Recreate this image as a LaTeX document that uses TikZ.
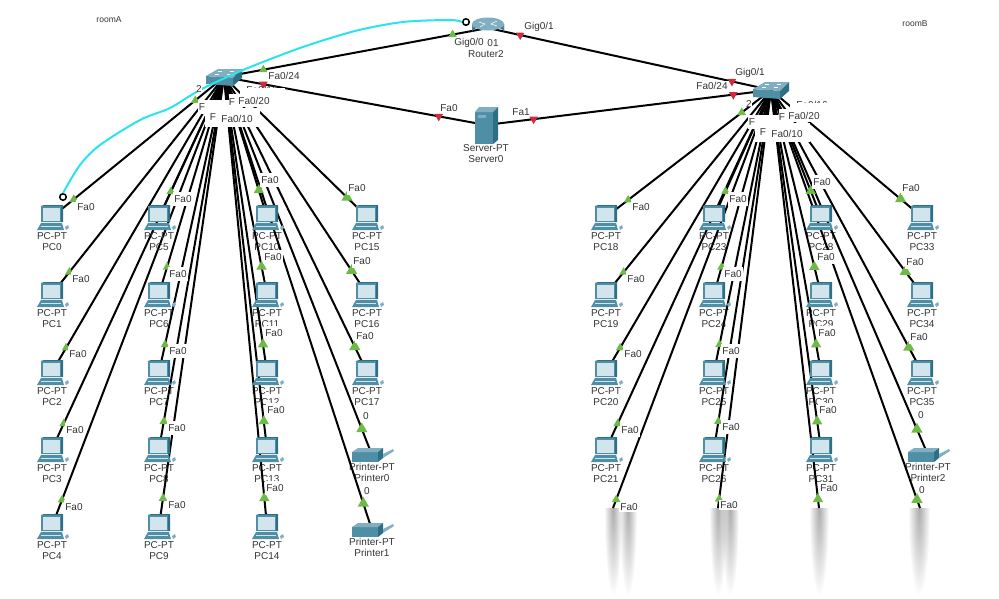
\documentclass[tikz,border=0pt]{standalone}
\usepackage{fontspec}
\setmainfont{Liberation Sans}
\usetikzlibrary{calc}
\usetikzlibrary{shapes.geometric}
\definecolor{devfront}{HTML}{4F8FA6}
\definecolor{devdark}{HTML}{2F6F86}
\definecolor{devtop}{HTML}{7FAFC1}
\definecolor{devscreen}{HTML}{D3E5EC}
\definecolor{upgreen}{HTML}{6DBB45}
\definecolor{downred}{HTML}{D2293F}
\definecolor{consolecyan}{HTML}{2BE3EC}
\definecolor{labelgray}{HTML}{333333}
\pgfdeclarelayer{bg}
\pgfdeclarelayer{fg}
\pgfsetlayers{bg,main,fg}
\tikzset{
  link/.style={draw=black,line width=2pt},
  devbox/.style={inner sep=0pt,minimum size=1pt},
  devtext/.style={align=center,anchor=north,inner sep=0pt,font=\fontsize{10}{11}\selectfont,text=labelgray},
  portlabel/.style={fill=white,inner xsep=1.5pt,inner ysep=1pt,font=\fontsize{10}{11}\selectfont,text=labelgray},
  pclabel/.style={portlabel,inner ysep=3pt},
  cover/.style={fill=white,inner sep=0pt,anchor=north west},
  upmark/.style={regular polygon,regular polygon sides=3,fill=upgreen,inner sep=0pt},
  downmark/.style={regular polygon,regular polygon sides=3,shape border rotate=180,fill=downred,inner sep=0pt,minimum size=10pt},
  conend/.style={circle,draw=black,fill=white,line width=1.5pt,inner sep=0pt,minimum size=6.500pt},
  pcicon/.pic={
    \fill[devdark] (-11,-11) -- (-8,-12) -- (11,-12) -- (11,5) -- (-11,5) -- cycle;
    \fill[devfront] (-11,-11) rectangle (9,5);
    \fill[devscreen] (-9,-9) rectangle (8,4);
    \fill[devfront] (-11,6) -- (10,6) -- (12,13) -- (-15,13) -- cycle;
    \fill[devscreen] (-11,9) rectangle (9,10);
    \fill[devtop] (13,10) -- (16,8) -- (17,11) -- (14,13) -- cycle;
  },
  printericon/.pic={
    \fill[devfront] (-20,-3) rectangle (6,7);
    \fill[devtop] (-20,-3) -- (-14,-7) -- (11,-7) -- (6,-3) -- cycle;
    \fill[devdark] (6,-3) -- (11,-7) -- (11,3) -- (6,7) -- cycle;
    \fill[devtop] (11,-1) -- (21,-6) -- (22,-4) -- (11,3) -- cycle;
  },
  switchicon/.pic={
    \fill[devfront] (-18,-1) -- (9,1) -- (9,9) -- (-18,7) -- cycle;
    \fill[devtop] (-18,-1) -- (-6,-8) -- (18,-8) -- (9,1) -- cycle;
    \fill[devdark] (9,1) -- (18,-8) -- (18,1) -- (9,9) -- cycle;
    \draw[white,line width=.4pt] (-6,-6) -- (-2,-6) (6,-6) -- (10,-6) (-9,-3) -- (-5,-3) (3,-3) -- (7,-3);
  },
  routericon/.pic={
    \fill[devdark] (-16,-4) -- (-16,4) arc[start angle=180,end angle=360,x radius=16,y radius=6] -- (16,-4) -- cycle;
    \fill[devfront] (-16,-4) -- (-16,2) arc[start angle=180,end angle=360,x radius=16,y radius=6] -- (16,-4) -- cycle;
    \fill[devtop] (0,-4) ellipse [x radius=16,y radius=6.5];
    \draw[white,line width=.5pt] (-9,-6) -- (-3,-4) -- (-8,-1) (9,-7) -- (3,-4) -- (9,-2);
  },
  servericon/.pic={
    \fill[devfront] (-11,-13) rectangle (7,19);
    \fill[devtop] (-11,-13) -- (-7,-18) -- (12,-18) -- (7,-13) -- cycle;
    \fill[devdark] (7,-13) -- (12,-18) -- (12,15) -- (7,19) -- cycle;
    \fill[devtop] (-8,-10) rectangle (0,-7);
  },
}
\begin{document}
\begin{tikzpicture}[x=1pt,y=-1pt]
\useasboundingbox (0,0) rectangle (999,598);
\node[devbox] (swA) at (224,77) {};
\node[devbox] (swB) at (771,90) {};
\node[devbox] (router) at (488,28) {};
\node[devbox] (server) at (486,125) {};
\begin{pgfonlayer}{bg}
\begin{scope}
\clip (560,508) rectangle (999,598);
\foreach \x/\rx in {613/9,628/9,718/9,730/9,819/10,919/11}
  \shade[blend mode=multiply,inner color=gray!65,outer color=white] (\x,508) ellipse [x radius=\rx,y radius=88];
\end{scope}
\draw[link] (swA.center) -- (router.center);
\draw[link] (swA.center) -- (server.center);
\draw[link] (router.center) -- (swB.center);
\draw[link] (server.center) -- (swB.center);
\end{pgfonlayer}
\foreach \n/\x/\y/\lx/\ly/\sw/\s in {
  PC0/52/217/86/207/swA/9,PC1/52/294/81/279/swA/9,PC2/52/372/78/354/swA/9,PC3/52/449/75/430/swA/9,PC4/52/526/74/507/swA/9,
  PC5/159/217/183/199/swA/9,PC6/159/294/178/274/swA/9,PC7/159/372/178/351/swA/9,PC8/159/449/177/428/swA/9,PC9/159/526/177/505/swA/9,
  PC10/267/217/270/180/swA/11,PC11/267/294/273/257/swA/11,PC12/267/372/274/333/swA/11,PC13/267/449/276/410/swA/11,PC14/267/526/275/488/swA/11,
  PC15/367/217/357/188/swA/12,PC16/367/294/362/261/swA/12,PC17/367/372/365/336/swA/12,
  PC18/606/217/641/207/swB/9,PC19/606/294/636/279/swB/9,PC20/606/372/633/354/swB/9,PC21/606/449/630/430/swB/9,
  PC23/714/217/738/199/swB/9,PC24/714/294/733/274/swB/9,PC25/714/372/731/351/swB/9,PC26/714/449/731/427/swB/9,
  PC28/821/217/822/182/swB/11,PC29/821/294/826/257/swB/11,PC30/821/372/827/333/swB/11,PC31/821/449/828/410/swB/11,
  PC33/922/217/911/188/swB/12,PC34/922/294/915/262/swB/12,PC35/922/372/919/337/swB/12}
{
  \node[devbox] (\n) at (\x,\y) {};
  \pic at (\n.center) {pcicon};
  \begin{pgfonlayer}{bg}
    \node[devtext] (\n-text) at ($(\n.center)+(0,15.5)$) {PC-PT\\\n};
    \draw[link] (\sw.center) -- (\n.center);
  \end{pgfonlayer}
  \node[upmark,minimum size=\s pt+1pt] (\n-mark) at ($(\n.center)!28pt!(\sw.center)$) {};
  \begin{pgfonlayer}{fg}
    \node[pclabel] (\n-port) at (\lx,\ly) {Fa0};
  \end{pgfonlayer}
}
\foreach \n/\x/\y/\lx/\ly/\sw in {Printer0/372/455/366/416/swA,Printer1/372/530/367/491/swA,Printer2/928/455/921/415/swB}
{
  \node[devbox] (\n) at (\x,\y) {};
  \pic at (\n.center) {printericon};
  \begin{pgfonlayer}{bg}
    \node[devtext] (\n-text) at ($(\n.center)+(0,8.5)$) {Printer-PT\\\n};
    \draw[link] (\sw.center) -- (\n.center);
  \end{pgfonlayer}
  \node[upmark,minimum size=13pt] (\n-mark) at ($(\n.center)!28pt!(\sw.center)$) {};
  \begin{pgfonlayer}{fg}
    \node[portlabel] (\n-port) at (\lx,\ly) {0};
  \end{pgfonlayer}
}
% links that run out at the faded bottom edge
\foreach \n/\x/\lx/\ly/\s/\txt in {endA/613/629/507/9/Fa0,endB/718/729/505/9/Fa0,endC/819/829/488/11/Fa0,endD/920/922/490/12/0}
{
  \coordinate (\n) at (\x,508);
  \begin{pgfonlayer}{bg}
    \draw[link] (swB.center) -- (\n);
  \end{pgfonlayer}
  \node[upmark,minimum size=\s pt+1pt] (\n-mark) at ($(\n)!9pt!(swB.center)$) {};
  \begin{pgfonlayer}{fg}
    \node[portlabel] (\n-port) at (\lx,\ly) {\txt};
  \end{pgfonlayer}
}
\pic at (swA.center) {switchicon};
\pic at (swB.center) {switchicon};
\pic at (router.center) {routericon};
\pic at (server.center) {servericon};
\node[devtext] (routertext) at (493,39) {01};
\node[devtext] (routername) at (486,50) {Router2};
\node[devtext] (servertext) at (486,144.500) {Server-PT\\Server0};
\node[upmark,minimum size=10pt] (m1) at ($(swA.center)!40pt!(router.center)$) {};
\node[upmark,minimum size=10pt] (m2) at ($(router.center)!36pt!(swA.center)$) {};
\node[upmark,minimum size=10pt] (m9) at ($(swA.center)!37pt!(PC0.center)$) {};
\node[upmark,minimum size=10pt] (m10) at ($(swB.center)!37pt!(PC18.center)$) {};
\node[downmark] (m3) at ($(swA.center)!40pt!(server.center)$) {};
\node[downmark] (m4) at ($(server.center)!48pt!(swA.center)$) {};
\node[downmark] (m5) at ($(router.center)!33pt!(swB.center)$) {};
\node[downmark] (m6) at ($(swB.center)!40pt!(router.center)$) {};
\node[downmark] (m7) at ($(server.center)!48pt!(swB.center)$) {};
\node[downmark] (m8) at ($(swB.center)!38pt!(server.center)$) {};
\node[conend] (conA) at (63,197) {};
\node[conend] (conB) at (466,22) {};
\draw[consolecyan,line width=2pt] plot[smooth] coordinates {(conA.north) (80,165) (100,145) (140,120) (170,108) (200,90) (243,70) (300,48) (355,31) (403,22) (450,20) (conB.west)};
\begin{pgfonlayer}{fg}
\node[portlabel,fill=none] (roomA) at (109,20) {\fontsize{8.5}{10}\selectfont roomA};
\node[portlabel,fill=none] (roomB) at (915,24) {\fontsize{8.5}{10}\selectfont roomB};
\node[portlabel] (gigA) at (469,43) {Gig0/0};
\node[portlabel] (gigB) at (539,27) {Gig0/1};
\node[portlabel] (gigC) at (750,73) {Gig0/1};
\node[portlabel] (fa24A) at (284,76) {Fa0/24};
\node[portlabel] (fa24B) at (712,86) {Fa0/24};
\node[portlabel] (faS) at (449,108) {Fa0};
\node[portlabel] (faT) at (521,112) {Fa1};
% stacked labels under each switch, one covering the next
\foreach \sw/\dx/\dy in {A/0/0,B/550/15}
{
  \node[portlabel,fill=none,inner sep=0pt] (hid\sw) at (262+\dx,90+\dy) {Fa0/16};
  \node[portlabel,anchor=west,inner sep=0pt] (two\sw) at (196+\dx,89+\dy) {2};
  \node[cover,minimum width=45pt,minimum height=8pt] (hidcov\sw) at (240+\dx,88+\dy) {};
  \node[cover,minimum width=44pt,minimum height=14pt] (one\sw) at (198+\dx,100+\dy) {};
  \node[cover,minimum width=54pt,minimum height=13pt] (six\sw) at (229+\dx,94+\dy) {};
  \node[cover,minimum width=55pt,minimum height=19pt] (five\sw) at (205+\dx,108+\dy) {};
  \node[portlabel,fill=none,inner sep=0pt] (fone\sw) at (202+\dx,107+\dy) {F};
  \node[portlabel,fill=none,inner sep=0pt] (fsix\sw) at (232+\dx,102+\dy) {F};
  \node[portlabel,fill=none,inner sep=0pt] (ffive\sw) at (213+\dx,117+\dy) {F};
  \node[portlabel] (twenty\sw) at (254+\dx,101+\dy) {Fa0/20};
  \node[portlabel] (ten\sw) at (237+\dx,119+\dy) {Fa0/10};
}
\end{pgfonlayer}
\end{tikzpicture}
\end{document}
